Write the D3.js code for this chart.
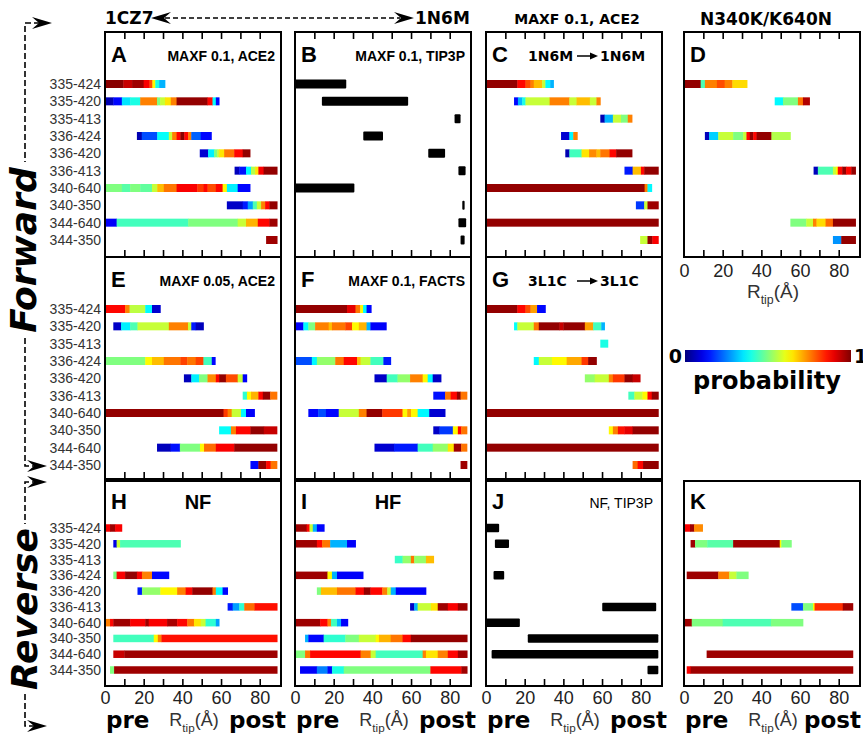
<!DOCTYPE html>
<html>
<head>
<meta charset="utf-8">
<script src="https://cdn.jsdelivr.net/npm/d3@7"></script>
<style>
  body { margin: 0; background: #fff; }
  text { font-family: "Liberation Sans", Arial, sans-serif; }
  .dv { font-family: "DejaVu Sans", sans-serif; font-weight: bold; }
</style>
</head>
<body>
<svg id="chart" width="863" height="735"></svg>
<script>
var rowLabels = ['335-424', '335-420', '335-413', '336-424', '336-420', '336-413', '340-640', '340-350', '344-640', '344-350']
var xTicks = [10, 20, 30, 40, 50, 60, 70, 80]
var xTickLabels = [0, 20, 40, 60, 80]
var panelKeys = ['A', 'B', 'C', 'D', 'E', 'F', 'G', 'H', 'I', 'J', 'K']
var panelNotes = { A: 'MAXF 0.1, ACE2', B: 'MAXF 0.1, TIP3P', E: 'MAXF 0.05, ACE2', F: 'MAXF 0.1, FACTS' }
var panelCentreNotes = { H: 'NF', I: 'HF' }
var panelSmallNotes = { J: 'NF, TIP3P' }
var panelTransitions = { C: ['1N6M', '1N6M'], G: ['3L1C', '3L1C'] }

// black bars: [row, start, end] in Å
var blackBars = {
  B: [[0, 0, 26.5], [1, 13.9, 58.5], [2, 82.5, 85.6], [3, 35.3, 45.5], [4, 68.9, 77.6],
      [5, 84.5, 88.2], [6, 0, 30.7], [7, 86.5, 87.7], [8, 84.5, 88.5], [9, 85.6, 87.7]],
  J: [[0, 0, 6.8], [1, 4.6, 11.9], [3, 3.9, 9.4], [5, 60.1, 88], [6, 0, 17.5],
      [7, 21.6, 89.1], [8, 2.9, 89.1], [9, 83.5, 89.1]]
}

// coloured bars: [row, start, [[segment end, probability], ...]]
var colorBars = {
  A: [
    [0, 0, [[9.5, .99], [14, .93], [20, .97], [23, .88], [24.5, .8], [26, .63], [28, .4], [31, .3]]],
    [1, 0, [[4.3, .05], [8.7, .13], [13, .35], [18.2, .4], [26.9, .75], [28.5, .5], [31, .57], [34, .65], [37, .75], [53, .98], [55.6, .87], [57.3, .38], [59, .13]]],
    [3, 16.5, [[19, .05], [27, .2], [33, .38], [34.7, .57], [37, .75], [39, .87], [41, .99], [43, .87], [44.6, .75], [49.5, .22], [55, .13]]],
    [4, 49, [[53.3, .08], [56.4, .36], [58, .5], [59, .57], [61.6, .65], [66.8, .76], [71.2, .87], [75, .98]]],
    [5, 67, [[69.4, .06], [72.9, .14], [75.5, .37], [77.6, .55], [79.3, .65], [82, .88], [89, .98]]],
    [6, 0, [[8.7, .5], [13, .46], [18.2, .5], [24.3, .47], [27, .57], [30.4, .69], [37, .76], [47.7, .88], [51, .82], [53, .87], [57.3, .8], [60.8, .87], [63, .63], [68.6, .36], [75, .13]]],
    [7, 63, [[71.2, .07], [73.8, .15], [76.4, .28], [78.5, .45], [80.7, .57], [82.8, .75], [85, .87], [89, .98]]],
    [8, 0, [[6, .12], [43, .44], [68.6, .5], [72.9, .57], [79, .7], [85, .87], [89, .97]]],
    [9, 83.3, [[89, .97]]]
  ],
  C: [
    [0, 0, [[16.2, .98], [20.4, .87], [23, .8], [24.7, .75], [29, .69], [30.7, .57], [33.2, .37], [34.9, .3]]],
    [1, 14.5, [[16.5, .13], [18.7, .3], [20.4, .4], [32.9, .57], [43.1, .75], [46.8, .57], [53.7, .69], [57.1, .57], [59.1, .75]]],
    [2, 59.1, [[61.3, .05], [65.6, .3], [69.8, .57], [73.3, .5], [75.5, .75]]],
    [3, 38.8, [[43.1, .08], [45.1, .37], [47.2, .75]]],
    [4, 41, [[43.1, .05], [49.4, .44], [53.3, .65], [57.1, .74], [59.1, .69], [63.9, .76], [67.3, .87], [75.5, .98]]],
    [5, 71.6, [[75.8, .15], [80.1, .69], [81.8, .87], [89.1, .98]]],
    [6, 0, [[82, .98], [83.5, .75], [85.7, .37]]],
    [7, 77.5, [[81.8, .18], [83.5, .57], [89.1, .97]]],
    [8, 0, [[89.1, .98]]],
    [9, 79.7, [[83.5, .57], [86, .98], [89.1, .88]]]
  ],
  D: [
    [0, 0, [[8.6, .98], [10.8, .45], [17, .75], [21, .8], [25, .75], [32.6, .66]]],
    [1, 46.9, [[51.2, .37], [58.9, .5], [61.5, .76], [64.9, .95]]],
    [3, 10.8, [[13, .06], [17.7, .33], [25.4, .57], [30.6, .5], [32.3, .57], [34, .87], [35.8, .98], [37.5, .87], [45.2, .98], [55, .55]]],
    [5, 67, [[69.2, .06], [77, .45], [78.6, .57], [79.5, .63], [81.8, .87], [83.8, .98], [86.5, .87], [88.7, .98]]],
    [8, 55, [[63.2, .5], [66.7, .57], [68.5, .75], [73.2, .66], [77, .77], [88.7, .98]]],
    [9, 77, [[81.3, .27], [88.7, .98]]]
  ],
  E: [
    [0, 0, [[10.4, .87], [12.7, .75], [20.8, .56], [24.3, .37], [28.6, .08]]],
    [1, 4.3, [[8.3, .07], [13, .36], [16.8, .45], [33, .57], [42.9, .75], [44.6, .57], [46.9, .15], [50.9, .06]]],
    [3, 0, [[20.8, .5], [24.3, .63], [30.4, .69], [39, .76], [42.5, .81], [46.9, .76], [50.9, .81], [55.2, .44], [57, .13]]],
    [4, 40.8, [[44.6, .06], [48.6, .36], [53, .5], [57.3, .74], [59, .87], [62.5, .98], [68.6, .8], [71.2, .57], [73.3, .12]]],
    [5, 71.2, [[73.4, .42], [75.5, .63], [79.3, .7], [81.6, .87], [85.4, .98], [88.9, .76]]],
    [6, 0, [[61.3, .98], [63.4, .82], [65.5, .75], [70.3, .57], [72.9, .37], [77.3, .12]]],
    [7, 59, [[65.1, .38], [67.7, .75], [75.2, .87], [82.1, .98], [88.9, .93]]],
    [8, 26.9, [[33.9, .06], [38.7, .14], [49.1, .5], [51.2, .63], [57.3, .77], [66.8, .88], [88.9, .98]]],
    [9, 75.2, [[79.3, .13], [83.3, .98], [85.6, .87], [88.9, .76]]]
  ],
  F: [
    [0, 0, [[26.9, .98], [31.3, .9], [33.7, .76], [35.2, .63], [37, .37], [39.4, .13]]],
    [1, 0, [[4.3, .12], [6.9, .37], [10.4, .5], [17.4, .75], [19.1, .69], [26, .76], [29.5, .81], [33, .63], [37, .7], [39, .3], [47.2, .12]]],
    [3, 0, [[8.7, .2], [11.3, .37], [20.8, .52], [25.2, .76], [32.1, .87], [33.9, .69], [39, .57], [45.7, .44], [49.5, .15]]],
    [4, 41.1, [[47.4, .07], [53, .44], [59.5, .52], [66, .75], [68.6, .63], [71.2, .37], [75.5, .07]]],
    [5, 71.5, [[77.6, .14], [80.5, .76], [83.7, .87], [85.6, .98], [88.9, .76]]],
    [6, 6.9, [[12, .13], [16, .2], [22.6, .13], [33, .57], [37, .75], [45.1, .98], [55.6, .82], [58, .63], [60, .72], [63.4, .63], [69.4, .37], [77.6, .08]]],
    [7, 71.5, [[74.7, .07], [81.6, .18], [84.2, .63], [85.9, .87], [88.9, .76]]],
    [8, 41.1, [[51.2, .08], [63.4, .15], [71.2, .44], [79, .52], [82.1, .65], [85.9, .97], [88.9, .76]]],
    [9, 85.6, [[88.9, .97]]]
  ],
  G: [
    [0, 0, [[16.2, .98], [20.4, .87], [23, .8], [26.4, .72], [30.7, .13]]],
    [1, 14.5, [[16.2, .38], [24.7, .57], [27.3, .76], [38, .98], [40, .93], [51.1, .98], [55.4, .72], [59.6, .44], [61.3, .3]]],
    [2, 59.1, [[63, .4]]],
    [3, 24.7, [[27.3, .37], [34.1, .57], [41.7, .63], [49.4, .71], [52.8, .82], [57.1, .98]]],
    [4, 51.1, [[56.2, .52], [63.5, .57], [65.6, .75], [71.6, .82], [75.8, .98], [79.7, .93]]],
    [5, 73.6, [[76.7, .44], [80.9, .57], [83.5, .63], [85.7, .87], [89.1, .98]]],
    [6, 0, [[89.1, .98]]],
    [7, 63.5, [[65.6, .63], [68.2, .75], [71.6, .86], [75.8, .9], [89.1, .98]]],
    [8, 0, [[89.1, .98]]],
    [9, 75.8, [[78.4, .77], [81.2, .87], [89.1, .98]]]
  ],
  H: [
    [0, 0, [[2.6, .88], [5.2, .97], [8.7, .88]]],
    [1, 4.3, [[6, .1], [7.8, .57], [39, .45]]],
    [3, 4.3, [[6, .5], [10.4, .88], [16.5, .98], [19.1, .88], [24.3, .75], [33, .13]]],
    [4, 16.8, [[19.1, .15], [28.6, .52], [37.3, .63], [41.7, .75], [45.1, .87], [55.6, .98], [57.3, .75], [60.8, .38], [63.4, .13]]],
    [5, 63.4, [[66, .15], [69.4, .28], [72, .42], [77.3, .77], [89, .86]]],
    [6, 0, [[2.6, .75], [4.3, .87], [13, .97], [20.8, .88], [22.6, .97], [32.1, .88], [37.3, .96], [42.5, .87], [46, .76], [49.5, .65], [52, .57], [57.3, .42], [59, .28]]],
    [7, 4.3, [[25.2, .44], [27.3, .63], [29.2, .75], [89, .86]]],
    [8, 4.3, [[10, .93], [89, .97]]],
    [9, 2.6, [[4.7, .5], [89, .97]]]
  ],
  I: [
    [0, 0, [[6, .97], [7.5, .87], [9.2, .57], [11.3, .3], [15.1, .13]]],
    [1, 0, [[11.3, .97], [14, .87], [18.2, .76], [26.9, .3], [31.3, .12]]],
    [2, 51.6, [[55.6, .43], [59.9, .52], [61.6, .76], [67.7, .52], [71.7, .69]]],
    [3, 0, [[16.8, .97], [19.1, .63], [21.7, .3], [35.2, .12]]],
    [4, 11.3, [[13.4, .5], [21.7, .69], [31.3, .76], [35.6, .87], [39, .98], [45.1, .87], [47.7, .75], [49.5, .57], [52.1, .3], [67.7, .12]]],
    [5, 59.5, [[61.6, .07], [63.4, .3], [70.3, .57], [73.8, .65], [79, .97], [84.2, .88], [89, .97]]],
    [6, 0, [[13, .97], [16.8, .87], [18.6, .75], [21.7, .44], [23.8, .3], [27.3, .12]]],
    [7, 5.2, [[6.9, .3], [14.8, .13], [26, .42], [33, .5], [41.7, .57], [43.4, .63], [49.5, .7], [55.6, .76], [59.9, .87], [89, .98]]],
    [8, 0, [[5.2, .5], [7.8, .76], [33.9, .87], [39.1, .75], [41.7, .57], [66, .44], [67.7, .75], [73.8, .65], [79, .75], [84.2, .87], [89, .97]]],
    [9, 2.6, [[11.3, .12], [16.8, .25], [19.1, .13], [25.2, .4], [70, .5], [86, .87], [89, .97]]]
  ],
  K: [
    [0, 0, [[3.1, .88], [5.2, .97], [9.6, .74]]],
    [1, 3.4, [[5.7, .97], [12, .5], [25.4, .46], [49.5, .97], [50.3, .63], [55.5, .5]]],
    [3, 1.4, [[17.7, .97], [23.4, .75], [27.1, .57], [33.2, .5]]],
    [5, 55.5, [[61.5, .2], [66.7, .5], [67.5, .63], [82.1, .83], [87.3, .97]]],
    [6, 0, [[4, .97], [20, .5], [45, .45], [61.5, .5]]],
    [8, 11.7, [[87.3, .97]]],
    [9, 1.4, [[3.4, .88], [87.3, .97]]]
  ]
}

// layout
var grid = { A: [0, 0], B: [0, 1], C: [0, 2], D: [0, 3], E: [1, 0], F: [1, 1], G: [1, 2], H: [2, 0], I: [2, 1], J: [2, 2], K: [2, 3] }
var colLeft = [105, 295, 486, 684], panelW = 176
var rowTop = [32, 257, 481], rowBot = [257, 479, 686]
var barFirst = [84, 309, 528], barLast = [240, 465, 670]
var barH = [8, 8, 7.5]

var svg = d3.select('#chart')

var jet = d3.scaleLinear()
  .domain([0, .125, .375, .625, .875, 1])
  .range(['#00007f', '#0000ff', '#00ffff', '#ffff00', '#ff0000', '#7f0000'])
  .clamp(true)

var arrowHead = function(g, x, y, dir) {
  // filled wedge arrowhead, tip at (x, y), dir = 1 right, -1 left
  g.append('path')
    .attr('d', 'M' + x + ',' + y + 'L' + (x - dir * 20) + ',' + (y - 6) + 'L' + (x - dir * 13) + ',' + y + 'L' + (x - dir * 20) + ',' + (y + 6) + 'Z')
    .attr('fill', '#000')
}

var rTipLabel = function(g, cx, y, size) {
  var t = g.append('text').attr('x', cx).attr('y', y).attr('text-anchor', 'middle')
    .attr('fill', '#333').style('font-size', size + 'px')
  t.append('tspan').text('R')
  t.append('tspan').attr('dy', 6).style('font-size', (size * 0.65) + 'px').text('tip')
  t.append('tspan').attr('dy', -6).text('(Å)')
}

panelKeys.forEach(function(key) {
  var gr = grid[key][0], gc = grid[key][1]
  var left = colLeft[gc], right = left + panelW, top = rowTop[gr], bottom = rowBot[gr]
  var x = d3.scaleLinear().domain([0, 91]).range([left, right])
  var y = d3.scalePoint().domain(rowLabels).range([barFirst[gr], barLast[gr]])
  var h = barH[gr]
  var g = svg.append('g').attr('class', 'panel-' + key)

  if (blackBars[key]) {
    g.selectAll('rect.bar').data(blackBars[key]).enter().append('rect')
      .attr('class', 'bar')
      .attr('x', function(d) { return x(d[1]) })
      .attr('width', function(d) { return x(d[2]) - x(d[1]) })
      .attr('y', function(d) { return y(rowLabels[d[0]]) - h / 2 - 0.5 })
      .attr('height', h + 1)
      .attr('rx', 1)
      .attr('fill', '#000')
  } else {
    var segs = []
    colorBars[key].forEach(function(b) {
      var from = b[1]
      b[2].forEach(function(s) {
        segs.push({ row: b[0], x0: from, x1: s[0], p: s[1] })
        from = s[0]
      })
    })
    g.selectAll('rect.seg').data(segs).enter().append('rect')
      .attr('class', 'seg')
      .attr('x', function(d) { return x(d.x0) })
      .attr('width', function(d) { return x(d.x1) - x(d.x0) + 0.4 })
      .attr('y', function(d) { return y(rowLabels[d.row]) - h / 2 })
      .attr('height', h)
      .attr('fill', function(d) { return jet(d.p) })
  }

  // ticks pointing inward
  var bAxis = g.append('g').attr('transform', 'translate(0,' + bottom + ')')
    .call(d3.axisBottom(x).tickValues(xTicks).tickSize(-7).tickFormat(''))
  bAxis.select('.domain').remove()
  bAxis.selectAll('line').attr('stroke-width', 1.6)
  if (gr === 0) {
    var tAxis = g.append('g').attr('transform', 'translate(0,' + top + ')')
      .call(d3.axisTop(x).tickValues(xTicks).tickSize(-7).tickFormat(''))
    tAxis.select('.domain').remove()
    tAxis.selectAll('line').attr('stroke-width', 1.6)
  }

  g.append('rect')
    .attr('x', left).attr('y', top).attr('width', panelW).attr('height', bottom - top)
    .attr('fill', 'none').attr('stroke', '#000').attr('stroke-width', 2)

  // row labels
  if (gc === 0) {
    g.selectAll('text.rowlab').data(rowLabels).enter().append('text')
      .attr('class', 'rowlab')
      .attr('x', left - 4).attr('y', function(d) { return y(d) })
      .attr('dy', '0.36em').attr('text-anchor', 'end')
      .attr('fill', '#333').style('font-size', '14px')
      .text(function(d) { return d })
  }

  // tick labels
  if (gr === 2 || key === 'D') {
    var lAxis = g.append('g').attr('transform', 'translate(0,' + bottom + ')')
      .call(d3.axisBottom(x).tickValues(xTickLabels).tickSize(0).tickFormat(d3.format('d')))
    lAxis.select('.domain').remove()
    lAxis.selectAll('text').attr('y', gr === 2 ? 18 : 20).attr('dy', 0)
      .attr('fill', '#222').style('font-size', '18px')
      .style('font-family', '"Liberation Sans", Arial, sans-serif')
  }
  if (gr === 2) {
    g.append('text').attr('class', 'dv').attr('x', left + 1).attr('y', 728)
      .style('font-size', '23px').text('pre')
    g.append('text').attr('class', 'dv').attr('x', Math.min(right + 5, 861)).attr('y', 728)
      .attr('text-anchor', 'end').style('font-size', '23px').text('post')
    rTipLabel(g, left + 89, 726, 18)
  }
  if (key === 'D') rTipLabel(g, left + 89, 298, 19)

  // panel letter and notes
  var base = top + (gr === 2 ? 28 : 30)
  g.append('text').attr('x', left + 6).attr('y', base)
    .style('font-size', '22px').style('font-weight', 'bold').text(key)
  if (panelNotes[key]) {
    g.append('text').attr('x', right - 6).attr('y', base - 1).attr('text-anchor', 'end')
      .style('font-size', '14px').style('font-weight', 'bold').text(panelNotes[key])
  }
  if (panelCentreNotes[key]) {
    g.append('text').attr('x', left + 93).attr('y', base).attr('text-anchor', 'middle')
      .style('font-size', '20px').style('font-weight', 'bold').text(panelCentreNotes[key])
  }
  if (panelSmallNotes[key]) {
    g.append('text').attr('x', right - 9).attr('y', base - 1).attr('text-anchor', 'end')
      .style('font-size', '14px').text(panelSmallNotes[key])
  }
  if (panelTransitions[key]) {
    var tr = panelTransitions[key]
    g.append('text').attr('class', 'dv').attr('x', left + 42).attr('y', base - 1)
      .style('font-size', '14px').text(tr[0])
    g.append('line').attr('x1', left + 91).attr('x2', left + 106)
      .attr('y1', base - 6).attr('y2', base - 6).attr('stroke', '#000').attr('stroke-width', 1.5)
    g.append('path')
      .attr('d', 'M' + (left + 112) + ',' + (base - 6) + 'l-8,-3.5l0,7z').attr('fill', '#000')
    g.append('text').attr('class', 'dv').attr('x', left + 114).attr('y', base - 1)
      .style('font-size', '14px').text(tr[1])
  }
})

// header
var head = svg.append('g')
head.append('text').attr('class', 'dv').attr('x', 105).attr('y', 24).style('font-size', '17px').text('1CZ7')
head.append('text').attr('class', 'dv').attr('x', 415).attr('y', 24).style('font-size', '17px').text('1N6M')
head.append('line').attr('x1', 165).attr('x2', 400).attr('y1', 18).attr('y2', 18)
  .attr('stroke', '#000').attr('stroke-width', 1.6).attr('stroke-dasharray', '5,3')
arrowHead(head, 151, 18, -1)
arrowHead(head, 414, 18, 1)
head.append('text').attr('class', 'dv').attr('x', 577).attr('y', 24).attr('text-anchor', 'middle')
  .style('font-size', '14px').text('MAXF 0.1, ACE2')
head.append('text').attr('class', 'dv').attr('x', 766).attr('y', 25).attr('text-anchor', 'middle')
  .style('font-size', '17px').text('N340K/K640N')

// side brackets
var side = svg.append('g')
var dash = function(pts) {
  side.append('path').attr('d', d3.line()(pts)).attr('fill', 'none')
    .attr('stroke', '#000').attr('stroke-width', 1.6).attr('stroke-dasharray', '6,3')
}
dash([[40, 23], [25, 23], [25, 162]])
dash([[25, 338], [25, 466], [38, 466]])
arrowHead(side, 52, 23, 1)
arrowHead(side, 47, 466, 1)
dash([[38, 482], [25, 482], [25, 524]])
dash([[25, 694], [25, 726], [38, 726]])
arrowHead(side, 47, 482, 1)
arrowHead(side, 47, 726, 1)
side.append('text').attr('class', 'dv').attr('transform', 'translate(36,250) rotate(-90)')
  .attr('text-anchor', 'middle').style('font-size', '36px').style('font-style', 'italic').text('Forward')
side.append('text').attr('class', 'dv').attr('transform', 'translate(37,609) rotate(-90)')
  .attr('text-anchor', 'middle').style('font-size', '36px').style('font-style', 'italic').text('Reverse')

// colour bar
var cb = svg.append('g')
var grad = svg.append('defs').append('linearGradient').attr('id', 'jetgrad')
grad.selectAll('stop').data(d3.range(0, 1.0001, 0.05)).enter().append('stop')
  .attr('offset', function(d) { return d })
  .attr('stop-color', function(d) { return jet(d) })
var cbx = d3.scaleLinear().domain([0, 1]).range([685, 851])
cb.append('rect').attr('x', cbx(0)).attr('y', 350).attr('width', cbx(1) - cbx(0)).attr('height', 12)
  .attr('fill', 'url(#jetgrad)')
cb.append('text').attr('class', 'dv').attr('x', cbx(0) - 3).attr('y', 363).attr('text-anchor', 'end')
  .style('font-size', '19px').text('0')
cb.append('text').attr('class', 'dv').attr('x', cbx(1) + 3).attr('y', 363)
  .style('font-size', '19px').text('1')
cb.append('text').attr('class', 'dv').attr('x', 767).attr('y', 389).attr('text-anchor', 'middle')
  .style('font-size', '24px').text('probability')
</script>
</body>
</html>
